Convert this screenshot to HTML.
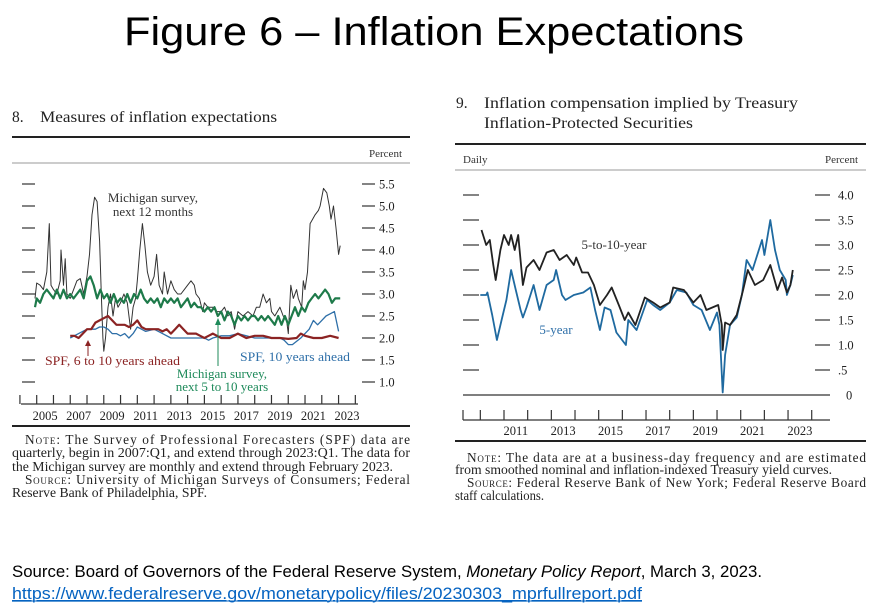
<!DOCTYPE html>
<html><head><meta charset="utf-8"><style>
html,body{margin:0;padding:0;background:#fff;width:877px;height:609px;overflow:hidden}
svg{display:block}
.serif{font-family:"Liberation Serif",serif}
.sans{font-family:"Liberation Sans",sans-serif}
</style></head><body>
<svg id="root" width="877" height="609" viewBox="0 0 877 609" xmlns="http://www.w3.org/2000/svg">
<text class="sans" x="434" y="45" font-size="40" text-anchor="middle" textLength="620" lengthAdjust="spacingAndGlyphs" fill="#000">Figure 6 – Inflation Expectations</text>

<!-- left panel -->
<g>
<text class="serif" x="12" y="122" font-size="15.5" fill="#222">8.</text>
<text class="serif" x="40" y="122" font-size="15.5" fill="#222" textLength="237" lengthAdjust="spacingAndGlyphs">Measures of inflation expectations</text>
<line x1="12" y1="137" x2="410" y2="137" stroke="#222" stroke-width="2"/>
<text class="serif" x="402" y="157" font-size="11" fill="#333" text-anchor="end">Percent</text>
<line x1="12" y1="163" x2="410" y2="163" stroke="#999" stroke-width="1"/>
<g id="lAxes"></g>
<g id="lSeries"></g>
<text class="serif" font-size="13" fill="#333" text-anchor="middle"><tspan x="153" y="202">Michigan survey,</tspan><tspan x="153" y="216">next 12 months</tspan></text>
<text class="serif" x="45" y="365" font-size="13" fill="#8b2323" textLength="135" lengthAdjust="spacingAndGlyphs">SPF, 6 to 10 years ahead</text>
<line x1="88" y1="356" x2="88" y2="345" stroke="#8b2323" stroke-width="1"/>
<polygon points="85,346 91,346 88,340" fill="#8b2323"/>
<text class="serif" x="240" y="361" font-size="13" fill="#2e6fa8" textLength="110" lengthAdjust="spacingAndGlyphs">SPF, 10 years ahead</text>
<text class="serif" font-size="13" fill="#1e8a5a" text-anchor="middle"><tspan x="222" y="378">Michigan survey,</tspan><tspan x="222" y="391">next 5 to 10 years</tspan></text>
<line x1="218" y1="366" x2="218" y2="324" stroke="#1e8a5a" stroke-width="1"/>
<polygon points="215,325 221,325 218,318" fill="#1e8a5a"/>
<line x1="12" y1="426" x2="410" y2="426" stroke="#222" stroke-width="2"/>
<g class="serif" font-size="13.3" fill="#222">
<text x="25" y="444" textLength="385" lengthAdjust="spacing"><tspan font-variant="small-caps">Note:</tspan> The Survey of Professional Forecasters (SPF) data are</text>
<text x="12" y="457" textLength="398" lengthAdjust="spacingAndGlyphs">quarterly, begin in 2007:Q1, and extend through 2023:Q1. The data for</text>
<text x="12" y="471" textLength="381" lengthAdjust="spacingAndGlyphs">the Michigan survey are monthly and extend through February 2023.</text>
<text x="25" y="484" textLength="385" lengthAdjust="spacing"><tspan font-variant="small-caps">Source:</tspan> University of Michigan Surveys of Consumers; Federal</text>
<text x="12" y="497" textLength="195" lengthAdjust="spacingAndGlyphs">Reserve Bank of Philadelphia, SPF.</text>
</g>
</g>

<!-- right panel -->
<g>
<text class="serif" x="456" y="108" font-size="15.5" fill="#222">9.</text>
<text class="serif" font-size="15.5" fill="#222"><tspan x="484" y="108" textLength="314" lengthAdjust="spacingAndGlyphs">Inflation compensation implied by Treasury</tspan><tspan x="484" y="128" textLength="209" lengthAdjust="spacingAndGlyphs">Inflation-Protected Securities</tspan></text>
<line x1="455" y1="144" x2="866" y2="144" stroke="#222" stroke-width="2"/>
<text class="serif" x="463" y="163" font-size="11" fill="#333">Daily</text>
<text class="serif" x="858" y="163" font-size="11" fill="#333" text-anchor="end">Percent</text>
<line x1="455" y1="170" x2="866" y2="170" stroke="#999" stroke-width="1"/>
<g id="rAxes"></g>
<g id="rSeries"></g>
<text class="serif" x="614" y="249" font-size="13" fill="#333" text-anchor="middle">5-to-10-year</text>
<text class="serif" x="556" y="334" font-size="13" fill="#2e6fa8" text-anchor="middle">5-year</text>
<line x1="455" y1="441" x2="866" y2="441" stroke="#222" stroke-width="2"/>
<g class="serif" font-size="13.3" fill="#222">
<text x="467" y="462" textLength="399" lengthAdjust="spacing"><tspan font-variant="small-caps">Note:</tspan> The data are at a business-day frequency and are estimated</text>
<text x="455" y="474" textLength="377" lengthAdjust="spacingAndGlyphs">from smoothed nominal and inflation-indexed Treasury yield curves.</text>
<text x="467" y="487" textLength="399" lengthAdjust="spacing"><tspan font-variant="small-caps">Source:</tspan> Federal Reserve Bank of New York; Federal Reserve Board</text>
<text x="455" y="500" textLength="89" lengthAdjust="spacingAndGlyphs">staff calculations.</text>
</g>
</g>

<text class="sans" x="12" y="577" font-size="16.5" fill="#000" textLength="750" lengthAdjust="spacingAndGlyphs">Source: Board of Governors of the Federal Reserve System, <tspan font-style="italic">Monetary Policy Report</tspan>, March 3, 2023.</text>
<text class="sans" x="12" y="599" font-size="16.5" fill="#0563c1" text-decoration="underline" textLength="630" lengthAdjust="spacingAndGlyphs">https://www.federalreserve.gov/monetarypolicy/files/20230303_mprfullreport.pdf</text>
<line x1="12" y1="601" x2="642" y2="601" stroke="#0563c1" stroke-width="1"/>
</svg>
<script>
// ---- Left chart data ----
const lYTicks = [1.0,1.5,2.0,2.5,3.0,3.5,4.0,4.5,5.0,5.5];
const lYTickLabels = ["1.0","1.5","2.0","2.5","3.0","3.5","4.0","4.5","5.0","5.5"];
const lXLabels = ["2005","2007","2009","2011","2013","2015","2017","2019","2021","2023"];
const mich12Years = [2004.9,2005.0,2005.2,2005.4,2005.6,2005.75,2005.85,2006.0,2006.2,2006.4,2006.45,2006.6,2006.7,2006.8,2007.0,2007.2,2007.4,2007.6,2007.8,2008.0,2008.15,2008.3,2008.45,2008.6,2008.75,2008.85,2008.95,2009.0,2009.1,2009.25,2009.4,2009.55,2009.7,2009.85,2010.0,2010.2,2010.4,2010.6,2010.75,2010.9,2011.0,2011.15,2011.3,2011.45,2011.6,2011.8,2012.0,2012.15,2012.3,2012.5,2012.6,2012.8,2013.0,2013.2,2013.4,2013.6,2013.8,2014.0,2014.2,2014.4,2014.5,2014.7,2014.9,2015.0,2015.2,2015.5,2015.7,2016.0,2016.2,2016.4,2016.6,2016.8,2017.0,2017.3,2017.6,2017.9,2018.1,2018.3,2018.5,2018.7,2018.9,2019.0,2019.2,2019.5,2019.7,2019.9,2020.0,2020.15,2020.3,2020.5,2020.6,2020.8,2020.9,2021.0,2021.15,2021.3,2021.45,2021.6,2021.8,2021.9,2022.1,2022.3,2022.45,2022.55,2022.7,2022.85,2023.0,2023.1];
const mich12Values = [2.9,3.25,3.2,3.1,3.5,4.6,3.2,3.1,3.0,3.3,4.0,3.2,3.8,3.0,2.9,3.1,3.3,3.35,3.0,3.4,3.9,4.8,5.2,5.1,4.2,3.0,2.0,1.7,2.0,2.7,3.0,2.5,2.9,2.7,2.8,3.0,2.8,2.2,2.7,2.9,3.3,4.0,4.6,4.1,3.5,3.2,3.4,3.9,3.2,3.0,3.5,3.0,3.3,3.1,3.0,3.0,3.1,3.2,3.3,3.2,3.0,2.9,2.6,2.8,2.7,2.7,2.6,2.6,2.7,2.5,2.6,2.2,2.6,2.5,2.6,2.5,2.7,2.7,3.0,2.8,2.9,2.6,2.5,2.7,2.5,2.4,2.1,3.2,2.9,3.1,2.9,2.7,3.3,3.1,3.5,4.6,4.7,4.8,4.9,5.0,5.4,5.3,5.0,4.7,5.0,4.5,3.9,4.1];
const mich510Years = [2004.9,2005.0,2005.2,2005.4,2005.6,2005.8,2006.0,2006.2,2006.4,2006.6,2006.8,2007.0,2007.2,2007.4,2007.6,2007.8,2008.0,2008.2,2008.4,2008.6,2008.8,2009.0,2009.2,2009.4,2009.6,2009.8,2010.0,2010.2,2010.4,2010.6,2010.8,2011.0,2011.2,2011.4,2011.6,2011.8,2012.0,2012.2,2012.4,2012.6,2012.8,2013.0,2013.2,2013.4,2013.6,2013.8,2014.0,2014.2,2014.4,2014.6,2014.8,2015.0,2015.2,2015.4,2015.6,2015.8,2016.0,2016.2,2016.4,2016.6,2016.8,2017.0,2017.2,2017.4,2017.6,2017.8,2018.0,2018.2,2018.4,2018.6,2018.8,2019.0,2019.2,2019.4,2019.6,2019.8,2020.0,2020.2,2020.4,2020.6,2020.8,2021.0,2021.2,2021.4,2021.6,2021.8,2022.0,2022.2,2022.4,2022.6,2022.8,2023.1];
const mich510Values = [2.7,2.9,2.8,3.0,3.1,3.0,2.9,3.1,2.9,3.1,2.9,3.0,2.9,3.0,3.1,2.9,3.3,3.4,3.2,2.9,3.1,2.9,3.0,2.8,3.0,2.8,2.9,2.8,3.0,2.8,3.0,2.9,3.1,2.9,2.8,2.9,2.8,2.9,2.7,2.9,2.8,2.9,2.8,2.9,2.7,2.8,2.9,2.7,2.8,2.7,2.7,2.6,2.7,2.6,2.7,2.5,2.6,2.4,2.6,2.5,2.3,2.5,2.4,2.5,2.4,2.5,2.5,2.4,2.5,2.4,2.5,2.4,2.3,2.5,2.3,2.5,2.3,2.5,2.7,2.5,2.7,2.6,2.8,2.9,3.0,2.9,3.0,3.1,3.0,2.8,2.9,2.9];
const spf610Years = [2007.0,2007.25,2007.5,2007.75,2008.0,2008.25,2008.5,2008.75,2009.0,2009.25,2009.5,2009.75,2010.0,2010.25,2010.5,2010.75,2011.0,2011.25,2011.5,2011.75,2012.0,2012.25,2012.5,2012.75,2013.0,2013.25,2013.5,2013.75,2014.0,2014.5,2014.75,2015.0,2015.25,2015.5,2015.75,2016.0,2016.5,2017.0,2017.5,2018.0,2018.5,2019.0,2019.5,2020.0,2020.5,2020.75,2021.0,2021.5,2022.0,2022.5,2023.0];
const spf610Values = [2.05,2.05,2.0,2.1,2.2,2.2,2.35,2.4,2.45,2.5,2.4,2.3,2.3,2.3,2.25,2.3,2.4,2.25,2.2,2.2,2.2,2.2,2.15,2.2,2.1,2.2,2.3,2.2,2.1,2.1,2.05,2.0,2.05,2.1,2.05,2.0,2.0,2.1,2.0,2.05,2.05,2.0,2.0,1.98,2.0,2.1,2.05,2.0,2.0,2.05,2.0];
const spf10Years = [2007.0,2007.5,2008.0,2008.5,2008.75,2009.0,2009.25,2009.5,2009.75,2010.0,2010.25,2010.5,2010.75,2011.0,2011.25,2011.5,2012.0,2012.5,2013.0,2014.0,2015.0,2015.25,2015.5,2016.0,2016.5,2017.0,2017.5,2018.0,2019.0,2019.5,2019.75,2020.0,2020.25,2020.75,2021.0,2021.25,2021.5,2021.75,2022.0,2022.25,2022.5,2022.75,2023.0];
const spf10Values = [2.0,2.1,2.2,2.2,2.25,2.25,2.2,2.1,2.1,2.05,2.1,2.0,2.1,2.25,2.2,2.15,2.2,2.1,2.0,2.0,2.0,1.95,2.0,2.05,2.05,2.1,2.05,2.0,2.0,2.0,1.95,1.85,1.85,2.0,2.1,2.2,2.4,2.3,2.4,2.5,2.55,2.6,2.15];

// ---- Right chart data ----
const rYTicks = [0,0.5,1.0,1.5,2.0,2.5,3.0,3.5,4.0];
const rYTickLabels = ["0",".5","1.0","1.5","2.0","2.5","3.0","3.5","4.0"];
const rXLabels = ["2011","2013","2015","2017","2019","2021","2023"];
const tenYears = [2010.05,2010.25,2010.4,2010.55,2010.65,2010.85,2011.0,2011.2,2011.3,2011.45,2011.6,2011.8,2011.95,2012.25,2012.5,2012.8,2013.1,2013.35,2013.65,2013.95,2014.05,2014.3,2014.55,2014.8,2015.05,2015.35,2015.55,2015.85,2016.1,2016.25,2016.55,2016.95,2017.3,2017.6,2018.0,2018.15,2018.6,2019.0,2019.3,2019.55,2020.05,2020.2,2020.24,2020.34,2020.55,2020.83,2021.1,2021.3,2021.6,2021.95,2022.25,2022.55,2022.75,2022.95,2023.1,2023.2];
const tenValues = [3.3,3.0,3.1,2.6,2.3,2.9,3.2,3.0,3.2,2.9,3.2,2.2,2.55,2.7,2.5,2.85,2.9,2.7,2.8,2.6,2.75,2.45,2.45,2.2,1.8,2.0,2.15,1.8,1.5,1.65,1.4,1.95,1.85,1.75,1.85,2.15,2.1,1.85,2.0,1.7,1.8,1.4,0.9,1.45,1.4,1.6,2.1,2.5,2.2,2.3,2.6,2.1,2.35,2.05,2.2,2.5];
const fiveYears = [2010.0,2010.25,2010.3,2010.5,2010.7,2010.9,2011.1,2011.3,2011.5,2011.7,2011.8,2011.95,2012.25,2012.5,2012.8,2013.1,2013.2,2013.45,2013.6,2013.95,2014.35,2014.65,2014.85,2015.05,2015.25,2015.5,2015.75,2016.15,2016.25,2016.6,2017.05,2017.3,2017.6,2018.0,2018.3,2018.7,2019.0,2019.35,2019.7,2020.0,2020.1,2020.24,2020.34,2020.55,2020.83,2021.05,2021.25,2021.5,2021.9,2022.0,2022.25,2022.45,2022.65,2022.9,2022.95,2023.1,2023.2];
const fiveValues = [2.0,2.0,2.05,1.6,1.1,1.5,1.9,2.5,2.1,1.7,1.55,1.75,2.2,1.7,2.2,2.3,2.5,2.0,1.9,2.0,2.05,2.15,1.7,1.3,1.75,1.7,1.25,1.0,1.5,1.3,1.9,1.8,1.7,1.85,2.1,2.05,1.8,1.7,1.3,1.65,1.4,0.05,0.8,1.4,1.55,2.0,2.7,2.5,3.1,2.8,3.5,2.9,2.5,2.3,2.0,2.2,2.4];

const NS = "http://www.w3.org/2000/svg";
function mk(tag, attrs, parent){const e=document.createElementNS(NS,tag);for(const k in attrs)e.setAttribute(k,attrs[k]);parent.appendChild(e);return e;}

function lx(t){return 36.7+(t-2005)*16.77;}
function ly(v){return 184+(5.5-v)*44;}
function rx(t){return 504+(t-2011)*23.67;}
function ry(v){return 395-v*50;}

function pathFrom(xs, ys, fx, fy){return xs.map((t,i)=>(i?"L":"M")+fx(t).toFixed(1)+","+fy(ys[i]).toFixed(1)).join(" ");}

const lAxes=document.getElementById("lAxes");
lYTicks.forEach((v,i)=>{
  const a=mk("line",{x1:22,x2:35,y1:ly(v),y2:ly(v),stroke:"#333","stroke-width":1.2},lAxes);
  
  
  const b=mk("line",{x1:362,x2:375,y1:ly(v),y2:ly(v),stroke:"#333","stroke-width":1.2},lAxes);
  
  
  const t=mk("text",{x:379,y:ly(v)+4.5,"font-size":12.5,fill:"#222","font-family":"Liberation Serif, serif"},lAxes);
  t.textContent=lYTickLabels[i];
  
  
});
{
  const ax=mk("line",{x1:21,x2:358,y1:404,y2:404,stroke:"#333","stroke-width":1.2},lAxes);
  
  
  for(let y=2004;y<=2024;y++){
    const xx=Math.min(lx(y),358);
    const tk=mk("line",{x1:xx,x2:xx,y1:395,y2:404,stroke:"#333","stroke-width":1.2},lAxes);
    
    
  }
  lXLabels.forEach(s=>{
    const t=mk("text",{x:lx(+s+0.5),y:420,"font-size":12.5,fill:"#222","text-anchor":"middle","font-family":"Liberation Serif, serif"},lAxes);
    t.textContent=s;
    
    
  });
}
const lSeries=document.getElementById("lSeries");
[[mich12Years,mich12Values,"#333",1,"line-michigan-12m"],[mich510Years,mich510Values,"#1e7a4a",2.2,"line-michigan-5-10"],[spf10Years,spf10Values,"#2e6fa8",1.3,"line-spf-10y"],[spf610Years,spf610Values,"#8b2323",2.2,"line-spf-6-10"]].forEach(s=>{
  const p=mk("path",{d:pathFrom(s[0],s[1],lx,ly),fill:"none",stroke:s[2],"stroke-width":s[3],"stroke-linejoin":"round"},lSeries);
  
  
});

const rAxes=document.getElementById("rAxes");
rYTicks.forEach((v,i)=>{
  if(v===0){
    const z=mk("line",{x1:463,x2:830,y1:ry(0),y2:ry(0),stroke:"#333","stroke-width":1.2},rAxes);
    
    
  } else {
    const a=mk("line",{x1:463,x2:479,y1:ry(v),y2:ry(v),stroke:"#333","stroke-width":1.2},rAxes);
    
    
    const b=mk("line",{x1:815,x2:830,y1:ry(v),y2:ry(v),stroke:"#333","stroke-width":1.2},rAxes);
    
    
  }
  const t=mk("text",{x:v===0?846:838,y:ry(v)+4.5,"font-size":12.5,fill:"#222","font-family":"Liberation Serif, serif"},rAxes);
  t.textContent=rYTickLabels[i];
  
  
});
{
  const ax=mk("line",{x1:463,x2:830,y1:420,y2:420,stroke:"#333","stroke-width":1.2},rAxes);
  
  
  const e1=mk("line",{x1:463,x2:463,y1:410,y2:420,stroke:"#333","stroke-width":1.2},rAxes);
  
  
  for(let y=2010;y<=2024;y++){
    const xx=Math.min(rx(y),830);
    const tk=mk("line",{x1:xx,x2:xx,y1:410,y2:420,stroke:"#333","stroke-width":1.2},rAxes);
    
    
  }
  rXLabels.forEach(s=>{
    const t=mk("text",{x:rx(+s+0.5),y:435,"font-size":12.5,fill:"#222","text-anchor":"middle","font-family":"Liberation Serif, serif"},rAxes);
    t.textContent=s;
    
    
  });
}
const rSeries=document.getElementById("rSeries");
[[fiveYears,fiveValues,"#1f6aa0",1.8,"line-5-year"],[tenYears,tenValues,"#222",1.8,"line-5-to-10-year"]].forEach(s=>{
  const p=mk("path",{d:pathFrom(s[0],s[1],rx,ry),fill:"none",stroke:s[2],"stroke-width":s[3],"stroke-linejoin":"round"},rSeries);
  
  
});
</script>
</body></html>
